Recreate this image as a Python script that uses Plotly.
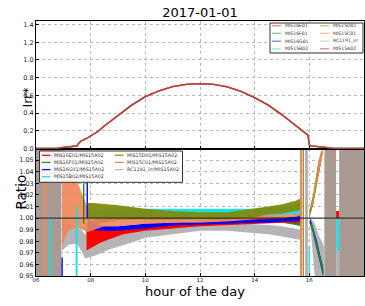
import plotly.graph_objects as go

# ---------------- data ----------------
title = "2017-01-01"
hours_irr = [6.0, 6.5, 6.8, 7.0, 7.25, 7.5, 7.55, 7.65, 7.8, 8.0, 8.25, 8.5, 8.75, 9.0, 9.5,
             10.0, 10.5, 11.0, 11.5, 12.0, 12.5, 13.0, 13.5, 14.0, 14.5, 15.0, 15.5, 15.75,
             15.95, 16.0, 16.05, 16.5, 16.9, 18.0]
irr = [0.0, 0.0, 0.004, 0.012, 0.02, 0.028, 0.055, 0.085, 0.105, 0.14, 0.19, 0.255, 0.315,
       0.375, 0.49, 0.585, 0.65, 0.70, 0.725, 0.733, 0.725, 0.695, 0.645, 0.575, 0.49, 0.38,
       0.255, 0.19, 0.15, 0.04, 0.03, 0.015, 0.0, 0.0]

top_names = ["MIS16E01", "MIS16F01", "MIS16G01", "MIS15B02",
             "MIS15D01", "MIS15C01", "RC1191_irr", "MIS15A02"]
top_colors = ["#ff0000", "#1f8f1f", "#0000ff", "#22dddd",
              "#7f8a10", "#f08558", "#b4b4b4", "#a52a2a"]
top_draw_order = [1, 2, 3, 4, 5, 6, 7, 0]

ratio_names = ["MIS16E01/MIS15A02", "MIS16F01/MIS15A02", "MIS16G01/MIS15A02",
               "MIS15B02/MIS15A02", "MIS15D01/MIS15A02", "MIS15C01/MIS15A02",
               "RC1191_irr/MIS15A02"]
ratio_colors = ["#ff0000", "#1f8f1f", "#0000ff", "#22dddd", "#7f8a10", "#f08558", "#b4b4b4"]

# ratio envelopes (hour, low, high)
red_h = [7.85, 8.0, 8.3, 8.7, 9.2, 10, 11, 12, 13, 14, 15, 15.7]
red_lo = [0.972, 0.974, 0.978, 0.982, 0.986, 0.989, 0.991, 0.993, 0.994, 0.995, 0.996, 0.996]
red_hi = [0.990, 0.990, 0.990, 0.991, 0.993, 0.995, 0.996, 0.997, 0.998, 0.999, 1.000, 1.002]

green_h = [7.85, 8.0, 8.3, 9, 10, 12, 14, 15, 15.5, 15.7]
green_lo = [0.983, 0.985, 0.995, 0.998, 0.999, 0.999, 0.998, 0.996, 0.994, 0.993]
green_hi = [0.996, 0.996, 1.003, 1.004, 1.003, 1.002, 1.002, 1.001, 1.000, 0.999]

blue_h = [7.9, 8.1, 8.5, 9.0, 9.5, 10, 11, 12, 13, 14, 14.5, 15, 15.5, 15.7]
blue_lo = [0.990, 0.990, 0.989, 0.989, 0.990, 0.991, 0.9935, 0.994, 0.995, 0.996, 0.996, 0.997, 0.997, 0.998]
blue_hi = [1.000, 0.995, 0.993, 0.993, 0.994, 0.995, 0.996, 0.997, 0.9975, 0.999, 0.9995, 0.9995, 1.002, 1.004]

cyan_h = [8.0, 9, 10, 11, 12, 13, 14, 15, 15.7]
cyan_lo = [1.000, 1.000, 1.001, 1.001, 1.001, 1.001, 1.002, 1.003, 1.004]
cyan_hi = [1.006, 1.007, 1.008, 1.008, 1.008, 1.0075, 1.008, 1.010, 1.012]

olive_h = [7.9, 8.1, 9, 10, 11, 12, 13, 14, 14.5, 15, 15.5, 15.7]
olive_lo = [1.000, 1.000, 1.000, 0.999, 0.999, 0.999, 0.999, 1.001, 1.003, 1.004, 1.006, 1.007]
olive_hi = [1.013, 1.013, 1.011, 1.008, 1.006, 1.005, 1.005, 1.008, 1.010, 1.012, 1.015, 1.017]

orange_h = [6.95, 7.1, 7.2, 7.5, 7.7, 7.9, 8.1, 8.5, 9, 10, 11, 12, 13, 14, 14.5, 15, 15.5, 15.7]
orange_lo = [0.975, 0.985, 0.990, 0.992, 0.990, 0.988, 0.990, 0.993, 0.993, 0.995, 0.996, 0.996, 0.997, 0.999, 1.000, 1.001, 1.001, 1.002]
orange_hi = [1.060, 1.055, 1.038, 1.032, 1.020, 1.008, 1.005, 1.004, 1.004, 1.003, 1.002, 1.002, 1.002, 1.003, 1.004, 1.005, 1.007, 1.009]

gray_h = [6.95, 7.2, 7.5, 7.65, 7.8, 7.9, 8.2, 8.7, 9.5, 10, 11, 12, 13, 14, 14.5, 15, 15.5, 15.7]
gray_lo = [0.972, 0.977, 0.978, 0.972, 0.965, 0.966, 0.968, 0.973, 0.979, 0.983, 0.986, 0.989, 0.989, 0.987, 0.986, 0.984, 0.982, 0.981]
gray_hi = [1.000, 0.996, 0.992, 0.990, 0.986, 0.986, 0.987, 0.988, 0.990, 0.992, 0.994, 0.996, 0.996, 0.995, 0.994, 0.993, 0.991, 0.990]

# evening divergence after sunset (series index, hours, low, high)
fan_series = [6, 4, 5, 2, 1]
fan_h = [[16.05, 16.2, 16.35, 16.55],
         [16.0, 16.15, 16.3, 16.45],
         [16.05, 16.2, 16.35, 16.5],
         [16.02, 16.12, 16.25, 16.38, 16.5],
         [16.05, 16.15, 16.28, 16.4, 16.52]]
fan_lo = [[0.990, 0.950, 0.950, 0.950],
          [1.000, 1.012, 1.030, 1.050],
          [1.005, 1.020, 1.040, 1.055],
          [0.995, 0.988, 0.975, 0.962, 0.950],
          [0.993, 0.986, 0.972, 0.960, 0.950]]
fan_hi = [[1.000, 0.995, 0.985, 0.975],
          [1.006, 1.022, 1.045, 1.060],
          [1.008, 1.026, 1.050, 1.060],
          [1.001, 0.994, 0.983, 0.970, 0.958],
          [0.998, 0.991, 0.978, 0.966, 0.956]]

# spans where every ratio series saturates the axis (start, end)
sat_start = [6.0, 16.55, 17.09]
sat_end = [6.93, 16.98, 18.0]
sat_color = "#a99b94"

# single streaks (series index, start, end, low, high)
streak_series = [5, 3, 5, 4, 6, 3, 0, 3, 6, 2, 1, 3, 2]
streak_start = [6.30, 6.48, 15.66, 15.76, 15.84, 15.97, 16.98, 16.98, 16.98, 7.85, 7.72, 7.45, 6.93]
streak_end = [6.38, 6.55, 15.74, 15.80, 15.95, 16.02, 17.09, 17.09, 17.09, 7.90, 7.77, 7.52, 6.98]
streak_lo = [0.95, 0.95, 0.95, 0.95, 0.95, 0.95, 1.000, 0.971, 0.950, 1.000, 0.995, 0.950, 0.950]
streak_hi = [1.06, 1.00, 1.06, 1.06, 1.06, 0.975, 1.006, 1.000, 0.971, 1.035, 1.030, 1.010, 0.966]

ref_level = 1.0
x_ticks = [6, 8, 10, 12, 14, 16, 18]
x_ticktext = ["06", "08", "10", "12", "14", "16", "18"]
top_yticks = [0.0, 0.2, 0.4, 0.6, 0.8, 1.0, 1.2, 1.4]
bot_yticks = [0.95, 0.96, 0.97, 0.98, 0.99, 1.00, 1.01, 1.02, 1.03, 1.04, 1.05]

# ---------------- figure ----------------
W, H = 365, 306
ML, MR, MT, MB = 36, 1, 21, 30
PW, PH = W - ML - MR, H - MT - MB

def px(xp):
    return (xp - ML) / PW

def py(yp):
    return (H - MB - yp) / PH

fig = go.Figure()

def band(h, lo, hi, color, opacity=1.0):
    fig.add_trace(go.Scatter(x=list(h) + list(h)[::-1], y=list(hi) + list(lo)[::-1],
                             fill="toself", fillcolor=color, mode="lines",
                             line=dict(width=0), opacity=opacity, hoverinfo="skip",
                             showlegend=False, xaxis="x", yaxis="y"))

# saturated spans
for s, e in zip(sat_start, sat_end):
    band([s, e], [0.94, 0.94], [1.07, 1.07], sat_color)

# ratio envelopes
band(green_h, green_lo, green_hi, ratio_colors[1])
band(gray_h, gray_lo, gray_hi, ratio_colors[6])
band(red_h, red_lo, red_hi, ratio_colors[0])
band(blue_h, blue_lo, blue_hi, ratio_colors[2])
band(orange_h, orange_lo, orange_hi, ratio_colors[5], 0.9)
band(cyan_h, cyan_lo, cyan_hi, ratio_colors[3])
band(olive_h, olive_lo, olive_hi, ratio_colors[4], 0.95)

for si, h, lo, hi in zip(fan_series, fan_h, fan_lo, fan_hi):
    band(h, lo, hi, ratio_colors[si])

for si, s, e, lo, hi in zip(streak_series, streak_start, streak_end, streak_lo, streak_hi):
    band([s, e], [lo, lo], [hi, hi], ratio_colors[si])

# reference line at ratio 1
fig.add_trace(go.Scatter(x=[x_ticks[0], x_ticks[-1]], y=[ref_level, ref_level], mode="lines",
                         line=dict(color="#2a2a2a", width=1.3), opacity=0.9, hoverinfo="skip",
                         showlegend=False, xaxis="x", yaxis="y"))

# irradiance (all series coincide, drawn semi-transparent)
for i in top_draw_order:
    fig.add_trace(go.Scatter(x=hours_irr, y=irr, mode="lines", name=top_names[i],
                             line=dict(color=top_colors[i], width=1.3), opacity=0.5,
                             showlegend=False, xaxis="x2", yaxis="y2"))

grid = dict(showgrid=True, gridcolor="#b8b8b8", griddash="dot", gridwidth=1)
axline = dict(showline=True, linecolor="black", linewidth=1, mirror=True, zeroline=False,
              automargin=False)
tickf = dict(family="DejaVu Sans", size=6.5, color="#222222")

fig.update_layout(
    template="none",
    width=W, height=H, margin=dict(l=ML, r=MR, t=MT, b=MB, autoexpand=False),
    paper_bgcolor="white", plot_bgcolor="white", showlegend=False,
    title=dict(text=title, x=0.5, xref="paper", y=1 - 12.5 / H, yref="container",
               xanchor="center", yanchor="middle", automargin=False,
               font=dict(family="DejaVu Sans", size=13, color="black")),
    xaxis=dict(domain=[0, 1], range=[6, 18], anchor="y", tickvals=x_ticks, ticktext=x_ticktext,
               ticks="inside", ticklen=3, tickcolor="black", ticklabelstandoff=-2,
               tickfont=dict(family="DejaVu Sans", size=5.5, color="#222222"), **grid, **axline),
    yaxis=dict(domain=[0, 0.5], range=[0.95, 1.06], anchor="x", tickvals=bot_yticks,
               tickformat=".2f", ticks="inside", ticklen=3, tickcolor="black", tickfont=tickf,
               **grid, **axline),
    xaxis2=dict(domain=[0, 1], range=[6, 18], anchor="y2", matches="x", tickvals=x_ticks,
                showticklabels=False, ticks="inside", ticklen=3, tickcolor="black",
                **grid, **axline),
    yaxis2=dict(domain=[0.5, 1], range=[0, 1.44], anchor="x2", tickvals=top_yticks,
                tickformat=".1f", ticks="inside", ticklen=3, tickcolor="black", tickfont=tickf,
                **grid, **axline),
)

ann = []
shapes = []
# axis titles
ann.append(dict(text="Irr*", x=px(17), y=py(86), xref="paper", yref="paper", textangle=-90,
                showarrow=False, font=dict(family="DejaVu Sans", size=12.5, color="black")))
ann.append(dict(text="Ratio", x=px(10), y=py(212), xref="paper", yref="paper", textangle=-90,
                showarrow=False, font=dict(family="DejaVu Sans", size=13.5, color="black")))
ann.append(dict(text="hour of the day", x=px(195), y=py(300), xref="paper", yref="paper",
                showarrow=False, borderpad=0,
                font=dict(family="DejaVu Sans", size=13, color="black")))

# top legend
shapes.append(dict(type="rect", xref="paper", yref="paper", x0=px(270), x1=px(363),
                   y0=py(53), y1=py(23), line=dict(color="#333333", width=1),
                   fillcolor="white", layer="above"))
top_rows = [25.7, 33.3, 41.2, 48.8]
for i, (n, c) in enumerate(zip(top_names, top_colors)):
    col, row = divmod(i, 4)
    lx = [272, 320][col]
    yy = top_rows[row]
    shapes.append(dict(type="line", xref="paper", yref="paper", x0=px(lx), x1=px(lx + 9),
                       y0=py(yy), y1=py(yy), line=dict(color=c, width=1.2), opacity=0.55,
                       layer="above"))
    ann.append(dict(text=n, x=px(lx + 11), y=py(yy), xref="paper", yref="paper",
                    xanchor="left", yanchor="middle", showarrow=False,
                    font=dict(family="DejaVu Sans", size=4.6, color="#333333")))

# bottom legend
shapes.append(dict(type="rect", xref="paper", yref="paper", x0=px(39.5), x1=px(182.5),
                   y0=py(182.3), y1=py(151), line=dict(color="#333333", width=1),
                   fillcolor="rgba(255,255,255,0.92)", layer="above"))
bot_rows = [155.3, 162.4, 169.6, 176.7]
for i, (n, c) in enumerate(zip(ratio_names, ratio_colors)):
    col, row = divmod(i, 4)
    lx = [42, 115][col]
    yy = bot_rows[row]
    shapes.append(dict(type="line", xref="paper", yref="paper", x0=px(lx), x1=px(lx + 8.5),
                       y0=py(yy), y1=py(yy), line=dict(color=c, width=1.2), layer="above"))
    ann.append(dict(text=n, x=px(lx + 10), y=py(yy), xref="paper", yref="paper",
                    xanchor="left", yanchor="middle", showarrow=False,
                    font=dict(family="DejaVu Sans", size=4.8, color="#333333")))

fig.update_layout(annotations=ann, shapes=shapes)
fig.write_html("out.html", config={"displayModeBar": False},
               post_script="document.body.style.margin='0';document.body.style.overflow='hidden';")
